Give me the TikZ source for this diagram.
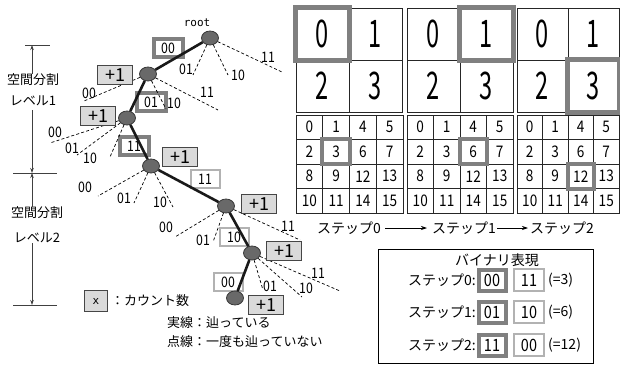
\documentclass[tikz,border=0pt]{standalone}
\usepackage{fontspec}
\usepackage{graphicx}
\setmainfont{Noto Sans CJK JP}
\newfontfamily\condf[FakeStretch=0.85]{Noto Sans CJK JP}
\newfontfamily\bigf[FakeStretch=0.62]{Noto Sans CJK JP}
\newfontfamily\monof{DejaVu Sans Mono}
\usetikzlibrary{shapes.geometric,arrows.meta,calc}
\definecolor{dkgray}{RGB}{128,128,128}
\definecolor{ltgray}{RGB}{178,178,178}
\definecolor{plusfill}{RGB}{218,218,218}
\definecolor{plusedge}{RGB}{70,70,70}
\definecolor{nodefill}{RGB}{105,105,105}
\definecolor{nodeedge}{RGB}{55,55,55}
\tikzset{
 tnode/.style={ellipse, draw=nodeedge, fill=nodefill, line width=0.8pt, minimum width=17pt, minimum height=14pt, inner sep=0pt},
 tedge/.style={line width=2.6pt, black!90},
 dedge/.style={line width=0.7pt, dash pattern=on 3pt off 2.2pt},
 lbl/.style={font=\condf\fontsize{14.5}{14.5}\selectfont, inner sep=0pt},
 dkbox/.style={draw=dkgray, line width=4pt, fill=white, minimum width=29pt, minimum height=18pt, inner sep=0pt, font=\condf\fontsize{14.5}{14.5}\selectfont},
 ltbox/.style={draw=ltgray, line width=2pt, fill=white, minimum width=29pt, minimum height=18pt, inner sep=0pt, font=\condf\fontsize{14.5}{14.5}\selectfont},
 plusbox/.style={draw=plusedge, line width=1pt, fill=plusfill, minimum width=35pt, minimum height=19pt, inner sep=0pt, font=\fontsize{18}{18}\selectfont},
 jp/.style={font=\fontsize{13}{13}\selectfont, inner sep=0pt},
 jps/.style={font=\fontsize{14}{14}\selectfont, inner sep=0pt},
 bigcell/.style={draw=black!85, line width=0.7pt, inner sep=0pt, font=\bigf\fontsize{38}{38}\selectfont},
 smcell/.style={draw=black!85, line width=0.7pt, inner sep=0pt, font=\condf\fontsize{16}{16}\selectfont},
 hlbig/.style={draw=dkgray, line width=5pt},
 hlsmall/.style={draw=dkgray, line width=4pt},
 axline/.style={line width=0.7pt, black!75},
 axarr/.style={line width=0.7pt, black!75, -{Stealth[length=5pt,width=3.5pt]}},
 steparr/.style={line width=0.7pt, -{Stealth[length=6pt,width=4pt]}},
 bdk/.style={draw=dkgray, line width=4pt, fill=white, minimum width=27pt, minimum height=21pt, inner sep=0pt, font=\condf\fontsize{17}{17}\selectfont},
 blt/.style={draw=ltgray, line width=2pt, fill=white, minimum width=30pt, minimum height=22pt, inner sep=0pt, font=\condf\fontsize{17}{17}\selectfont},
}
\begin{document}
\begin{tikzpicture}[x=1pt,y=-1pt]
\useasboundingbox (0,0) rectangle (620,364);

% ---- path label boxes
\node[dkbox] (b00) at (168,48) {00};
\node[dkbox] (b01) at (151,102) {01};
\node[dkbox] (b11) at (134,146) {11};
\node[ltbox] (c11) at (205,179) {11};
\node[ltbox] (c10) at (234,237) {10};
\node[ltbox] (c00) at (228,282) {00};

% ---- tree nodes
\node[tnode] (n0) at (210,38) {};
\node[tnode] (n1) at (148,74) {};
\node[tnode] (n2) at (127,118) {};
\node[tnode] (n3) at (151,166) {};
\node[tnode] (n4) at (226,206) {};
\node[tnode] (n5) at (252,253) {};
\node[tnode] (n6) at (235,298) {};
\node[font=\monof\fontsize{11}{11}\selectfont, inner sep=0pt] (rootlbl) at (197,23) {root};

% ---- traversed edges
\draw[tedge] (n0) -- (n1);
\draw[tedge] (n1) -- (n2);
\draw[tedge] (n2) -- (n3);
\draw[tedge] (n3) -- (n4);
\draw[tedge] (n4) -- (n5);
\draw[tedge] (n5) -- (n6);

% ---- untraversed (dashed) edges
\coordinate (e0a) at (193,75); \coordinate (e0b) at (228,75); \coordinate (e0c) at (282,72);
\draw[dedge] (n0) -- (e0a); \draw[dedge] (n0) -- (e0b); \draw[dedge] (n0) -- (e0c);
\node[lbl] (l0a) at (186,69) {01}; \node[lbl] (l0b) at (238,75) {10}; \node[lbl] (l0c) at (268,57) {11};

\coordinate (e1a) at (84,101); \coordinate (e1b) at (166,109); \coordinate (e1c) at (218,110);
\draw[dedge] (n1) -- (e1a); \draw[dedge] (n1) -- (e1b); \draw[dedge] (n1) -- (e1c);
\node[lbl] (l1a) at (89,93) {00}; \node[lbl] (l1b) at (174,103) {10}; \node[lbl] (l1c) at (207,92) {11};

\coordinate (e2a) at (50,143); \coordinate (e2b) at (77,155); \coordinate (e2c) at (110,157);
\draw[dedge] (n2) -- (e2a); \draw[dedge] (n2) -- (e2b); \draw[dedge] (n2) -- (e2c);
\node[lbl] (l2a) at (55,132) {00}; \node[lbl] (l2b) at (72,148) {01}; \node[lbl] (l2c) at (90,158) {10};

\coordinate (e3a) at (98,196); \coordinate (e3b) at (134,203); \coordinate (e3c) at (173,207);
\draw[dedge] (n3) -- (e3a); \draw[dedge] (n3) -- (e3b); \draw[dedge] (n3) -- (e3c);
\node[lbl] (l3a) at (85,187) {00}; \node[lbl] (l3b) at (124,198) {01}; \node[lbl] (l3c) at (160,202) {10};

\coordinate (e4a) at (175,237); \coordinate (e4b) at (213,242); \coordinate (e4c) at (300,240);
\draw[dedge] (n4) -- (e4a); \draw[dedge] (n4) -- (e4b); \draw[dedge] (n4) -- (e4c);
\node[lbl] (l4a) at (166,227) {00}; \node[lbl] (l4b) at (203,240) {01}; \node[lbl] (l4c) at (288,226) {11};

\coordinate (e5a) at (263,290); \coordinate (e5b) at (302,297); \coordinate (e5c) at (340,291);
\draw[dedge] (n5) -- (e5a); \draw[dedge] (n5) -- (e5b); \draw[dedge] (n5) -- (e5c);
\node[lbl] (l5a) at (270,286) {01}; \node[lbl] (l5b) at (306,288) {10}; \node[lbl] (l5c) at (318,273) {11};

% ---- count boxes
\node[plusbox] (p1) at (115,75) {+1};
\node[plusbox] (p2) at (98,116) {+1};
\node[plusbox] (p3) at (180,157) {+1};
\node[plusbox] (p4) at (259,204) {+1};
\node[plusbox] (p5) at (284,251) {+1};
\node[plusbox] (p6) at (266,305) {+1};

% ---- left axis
\coordinate (tk1) at (32,45); \coordinate (tk2) at (32,173); \coordinate (tk3) at (32,305);
\draw[axline] (25,45) -- (50,45);
\draw[axline] (13,173) -- (57,173);
\draw[axline] (13,305) -- (57,305);
\node[jp] (k1) at (33,80) {空間分割};
\node[jp] (v1) at (33,101) {レベル1};
\node[jp] (k2) at (37,213) {空間分割};
\node[jp] (v2) at (37,238) {レベル2};
\draw[axarr] (tk1 |- k1.north) -- (tk1);
\draw[axarr, shorten <=4pt] (tk2 |- v1.south) -- (tk2);
\draw[axarr] (tk2 |- k2.north) -- (tk2);
\draw[axarr] (tk3 |- v2.south) -- (tk3);

% ---- legend
\node[plusbox, minimum width=23pt, minimum height=21pt, font=\monof\fontsize{11}{11}\selectfont] (lx) at (96,301) {x};
\node[jp, anchor=west] (lxt) at (111,301) {：カウント数};
\node[jp, anchor=west] (lg1) at (167,323) {実線：辿っている};
\node[jp, anchor=west] (lg2) at (167,342) {点線：一度も辿っていない};

% ---- top grids (level 1)
\foreach \L/\R/\g in {296/402/a, 407/513/b, 517/619/c} {
  \pgfmathsetmacro\w{(\R-\L)/2}
  \foreach \i/\j/\t in {0/0/0, 1/0/1, 0/1/2, 1/1/3} {
    \node[bigcell, minimum width=\w pt, minimum height=52pt] (t\g\t) at ({\L+\w*(\i+0.5)},{8+52*(\j+0.5)}) {\t};
  }
}
\draw[hlbig] (ta0.north west) rectangle (ta0.south east);
\draw[hlbig] (tb1.north west) rectangle (tb1.south east);
\draw[hlbig] (tc3.north west) rectangle (tc3.south east);

% ---- bottom grids (level 2)
\foreach \L/\R/\g in {296/403/a, 407/513/b, 517/619/c} {
  \pgfmathsetmacro\w{(\R-\L)/4}
  \foreach \i/\j/\v in {0/0/0,1/0/1,2/0/4,3/0/5,0/1/2,1/1/3,2/1/6,3/1/7,0/2/8,1/2/9,2/2/12,3/2/13,0/3/10,1/3/11,2/3/14,3/3/15} {
    \node[smcell, minimum width=\w pt, minimum height=24.5pt] (s\g\v) at ({\L+\w*(\i+0.5)},{115+24.5*(\j+0.5)}) {\v};
  }
}
\draw[hlsmall] (sa3.north west) rectangle (sa3.south east);
\draw[hlsmall] (sb6.north west) rectangle (sb6.south east);
\draw[hlsmall] (sc12.north west) rectangle (sc12.south east);

% ---- steps
\node[jps, anchor=west] (st0) at (317,228) {ステップ0};
\node[jps, anchor=west] (st1) at (432,228) {ステップ1};
\node[jps, anchor=west] (st2) at (530,228) {ステップ2};
\draw[steparr, shorten <=4pt, shorten >=5pt] (st0.east) -- (st1.west);
\draw[steparr, shorten <=1pt, shorten >=2pt] (st1.east) -- (st2.west);

% ---- binary representation box
\node[draw, line width=0.9pt, minimum width=215pt, minimum height=114pt, inner sep=0pt] (bin) at (485.5,306) {};
\node[jps] (bintitle) at (497,260) {バイナリ表現};
\node[jps, anchor=east] (r0) at (476,280) {ステップ0:};
\node[jps, anchor=east] (r1) at (476,312) {ステップ1:};
\node[jps, anchor=east] (r2) at (476,345) {ステップ2:};
\node[bdk] (r0a) at (492,280) {00};
\node[blt] (r0b) at (529,280) {11};
\node[bdk] (r1a) at (492,312) {01};
\node[blt] (r1b) at (529,312) {10};
\node[bdk] (r2a) at (492,345) {11};
\node[blt] (r2b) at (529,345) {00};
\node[jps, anchor=west] (r0c) at (548,280) {(=3)};
\node[jps, anchor=west] (r1c) at (548,312) {(=6)};
\node[jps, anchor=west] (r2c) at (548,345) {(=12)};
\end{tikzpicture}
\end{document}
